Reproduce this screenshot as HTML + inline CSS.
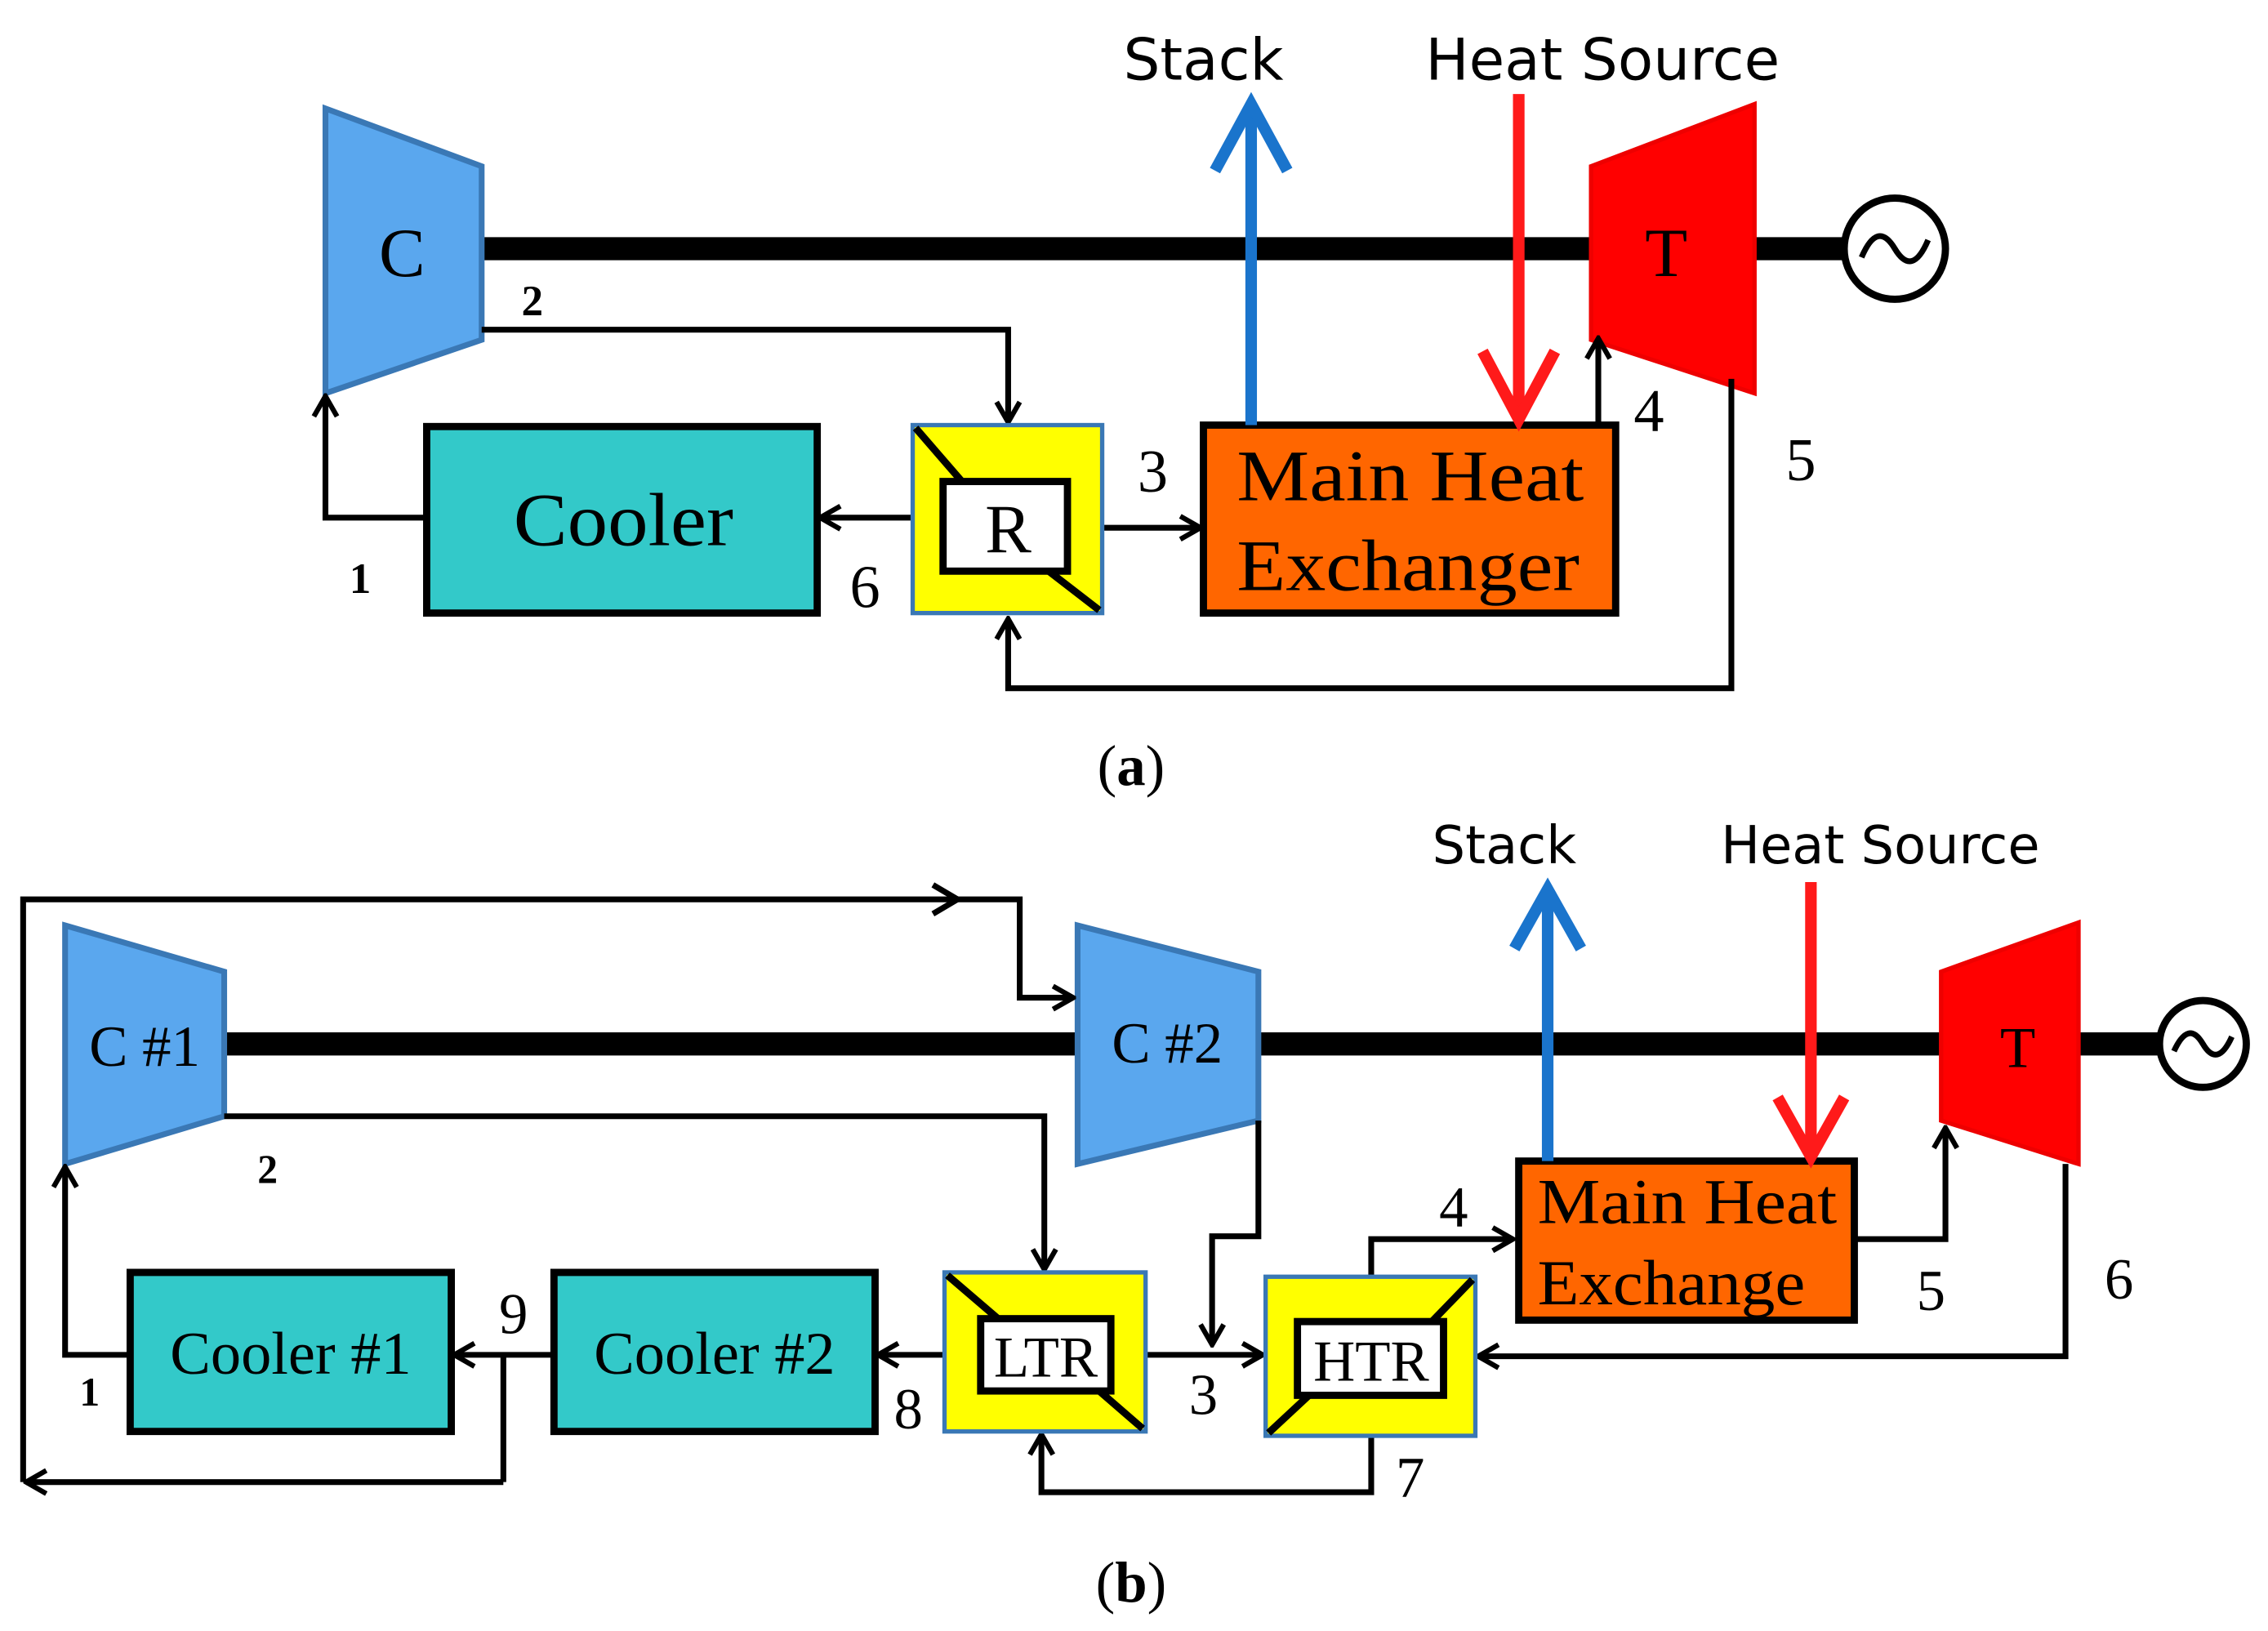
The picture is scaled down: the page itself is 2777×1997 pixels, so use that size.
<!DOCTYPE html>
<html><head><meta charset="utf-8"><style>
html,body{margin:0;padding:0;background:#fff;}
svg{display:block;}
.s{font-family:"Liberation Serif",serif;}
.a{font-family:"DejaVu Sans","Liberation Sans",sans-serif;}
</style></head><body>
<svg width="2777" height="1997" viewBox="0 0 1568 1128" preserveAspectRatio="none" xmlns="http://www.w3.org/2000/svg">
<defs>
<marker id="ar" viewBox="0 0 20 20" refX="18" refY="10" markerWidth="20" markerHeight="20" markerUnits="userSpaceOnUse" orient="auto">
<polyline points="4,2 18,10 4,18" fill="none" stroke="#000" stroke-width="3.5"/>
</marker>
</defs>
<line x1="333" y1="172" x2="1280" y2="172" stroke="#000" stroke-width="16"/>
<polygon points="225,75 333,115 333,235 225,272" fill="#5aa7ee" stroke="#3a78b5" stroke-width="4"/>
<polygon points="1100,115 1213,72 1213,272 1100,235" fill="#ff0000" stroke="#ee0000" stroke-width="3"/>
<circle cx="1310" cy="172" r="35" fill="#fff" stroke="#000" stroke-width="5"/>
<path d="M1287,178 Q1298,152 1310,172 Q1322,192 1333,166" fill="none" stroke="#000" stroke-width="4"/>
<text x="278" y="191" class="s" font-size="48" text-anchor="middle">C</text>
<text x="1152" y="191" class="s" font-size="48" text-anchor="middle">T</text>
<text x="368" y="218" class="s" font-size="30" font-weight="bold" text-anchor="middle">2</text>
<g fill="none" stroke="#000" stroke-width="4">
<polyline points="333,228 697,228 697,292" marker-end="url(#ar)"/>
<line x1="631" y1="358" x2="567" y2="358" marker-end="url(#ar)"/>
<polyline points="295,358 225,358 225,274" marker-end="url(#ar)"/>
<line x1="762" y1="365" x2="830" y2="365" marker-end="url(#ar)"/>
<polyline points="1105,294 1105,234" marker-end="url(#ar)"/>
<polyline points="1197,262 1197,476 697,476 697,428" marker-end="url(#ar)"/>
</g>
<rect x="295" y="295" width="270" height="129" fill="#33c9c9" stroke="#000" stroke-width="5"/>
<text x="355" y="377" class="s" font-size="52" textLength="152" lengthAdjust="spacingAndGlyphs">Cooler</text>
<rect x="631" y="294" width="131" height="130" fill="#ffff00" stroke="#3a78b5" stroke-width="3"/>
<line x1="633" y1="296" x2="665" y2="333" stroke="#000" stroke-width="5"/>
<line x1="760" y1="422" x2="725" y2="395" stroke="#000" stroke-width="5"/>
<rect x="652" y="333" width="86" height="62" fill="#fff" stroke="#000" stroke-width="5"/>
<text x="697" y="382" class="s" font-size="48" text-anchor="middle">R</text>
<rect x="832" y="294" width="285" height="130" fill="#ff6600" stroke="#000" stroke-width="5"/>
<text x="855" y="346" class="s" font-size="50" textLength="240" lengthAdjust="spacingAndGlyphs">Main Heat</text>
<text x="855" y="408" class="s" font-size="50" textLength="237" lengthAdjust="spacingAndGlyphs">Exchanger</text>
<line x1="865" y1="294" x2="865" y2="72" stroke="#1a74cc" stroke-width="8"/>
<polyline points="840,118 865,72 890,118" fill="none" stroke="#1a74cc" stroke-width="8"/>
<line x1="1050" y1="65" x2="1050" y2="290" stroke="#ff1a1a" stroke-width="8"/>
<polyline points="1025,243 1050,290 1075,243" fill="none" stroke="#ff1a1a" stroke-width="8"/>
<text x="832" y="55" class="a" font-size="40" text-anchor="middle">Stack</text>
<text x="1108" y="55" class="a" font-size="40" text-anchor="middle">Heat Source</text>
<text x="598" y="420" class="s" font-size="42" text-anchor="middle">6</text>
<text x="249" y="410" class="s" font-size="30" font-weight="bold" text-anchor="middle">1</text>
<text x="797" y="340" class="s" font-size="42" text-anchor="middle">3</text>
<text x="1140" y="298" class="s" font-size="42" text-anchor="middle">4</text>
<text x="1245" y="332" class="s" font-size="42" text-anchor="middle">5</text>
<text x="782" y="543" class="s" font-size="40" text-anchor="middle">(<tspan font-weight="bold">a</tspan>)</text>

<line x1="155" y1="722" x2="1495" y2="722" stroke="#000" stroke-width="16"/>
<polygon points="45,640 155,672 155,772 45,805" fill="#5aa7ee" stroke="#3a78b5" stroke-width="4"/>
<polygon points="745,640 870,672 870,775 745,805" fill="#5aa7ee" stroke="#3a78b5" stroke-width="4"/>
<polygon points="1342,672 1437,638 1437,805 1342,775" fill="#ff0000" stroke="#ee0000" stroke-width="3"/>
<circle cx="1523" cy="722" r="30" fill="#fff" stroke="#000" stroke-width="5"/>
<path d="M1503,727 Q1513,705 1523,722 Q1533,739 1543,717" fill="none" stroke="#000" stroke-width="4"/>
<text x="100" y="737" class="s" font-size="40" text-anchor="middle">C #1</text>
<text x="807" y="735" class="s" font-size="40" text-anchor="middle">C #2</text>
<text x="1395" y="738" class="s" font-size="40" text-anchor="middle">T</text>
<g fill="none" stroke="#000" stroke-width="4">
<polyline points="348,1025 18,1025" marker-end="url(#ar)"/>
<polyline points="16,1025 16,622 705,622 705,690 742,690" marker-end="url(#ar)"/>
<polyline points="645,612 662,622 645,632"/>
<line x1="348" y1="937" x2="348" y2="1025"/>
<polyline points="155,772 722,772 722,878" marker-end="url(#ar)"/>
<line x1="653" y1="937" x2="607" y2="937" marker-end="url(#ar)"/>
<line x1="383" y1="937" x2="314" y2="937" marker-end="url(#ar)"/>
<polyline points="90,937 45,937 45,807" marker-end="url(#ar)"/>
<line x1="792" y1="937" x2="873" y2="937" marker-end="url(#ar)"/>
<polyline points="870,775 870,855 838,855 838,930" marker-end="url(#ar)"/>
<polyline points="948,993 948,1032 720,1032 720,992" marker-end="url(#ar)"/>
<polyline points="948,883 948,857 1046,857" marker-end="url(#ar)"/>
<polyline points="1282,857 1345,857 1345,780" marker-end="url(#ar)"/>
<polyline points="1428,805 1428,938 1022,938" marker-end="url(#ar)"/>
</g>
<rect x="90" y="880" width="222" height="110" fill="#33c9c9" stroke="#000" stroke-width="5"/>
<text x="201" y="950" class="s" font-size="42" text-anchor="middle">Cooler #1</text>
<rect x="383" y="880" width="222" height="110" fill="#33c9c9" stroke="#000" stroke-width="5"/>
<text x="494" y="950" class="s" font-size="42" text-anchor="middle">Cooler #2</text>
<rect x="653" y="880" width="139" height="110" fill="#ffff00" stroke="#3a78b5" stroke-width="3"/>
<line x1="655" y1="882" x2="690" y2="912" stroke="#000" stroke-width="5"/>
<line x1="790" y1="988" x2="760" y2="962" stroke="#000" stroke-width="5"/>
<rect x="678" y="912" width="90" height="50" fill="#fff" stroke="#000" stroke-width="5"/>
<text x="723" y="952" class="s" font-size="40" text-anchor="middle">LTR</text>
<rect x="875" y="883" width="145" height="110" fill="#ffff00" stroke="#3a78b5" stroke-width="3"/>
<line x1="877" y1="991" x2="905" y2="965" stroke="#000" stroke-width="5"/>
<line x1="1018" y1="885" x2="990" y2="914" stroke="#000" stroke-width="5"/>
<rect x="897" y="914" width="101" height="51" fill="#fff" stroke="#000" stroke-width="5"/>
<text x="948" y="955" class="s" font-size="40" text-anchor="middle">HTR</text>
<rect x="1050" y="803" width="232" height="110" fill="#ff6600" stroke="#000" stroke-width="5"/>
<text x="1063" y="846" class="s" font-size="44" textLength="207" lengthAdjust="spacingAndGlyphs">Main Heat</text>
<text x="1063" y="902" class="s" font-size="44" textLength="185" lengthAdjust="spacingAndGlyphs">Exchange</text>
<line x1="1070" y1="803" x2="1070" y2="615" stroke="#1a74cc" stroke-width="8"/>
<polyline points="1047,656 1070,615 1093,656" fill="none" stroke="#1a74cc" stroke-width="8"/>
<line x1="1252" y1="610" x2="1252" y2="800" stroke="#ff1a1a" stroke-width="8"/>
<polyline points="1229,759 1252,800 1275,759" fill="none" stroke="#ff1a1a" stroke-width="8"/>
<text x="1040" y="597" class="a" font-size="36" text-anchor="middle">Stack</text>
<text x="1300" y="597" class="a" font-size="36" text-anchor="middle">Heat Source</text>
<text x="185" y="818" class="s" font-size="28" font-weight="bold" text-anchor="middle">2</text>
<text x="62" y="972" class="s" font-size="28" font-weight="bold" text-anchor="middle">1</text>
<text x="355" y="922" class="s" font-size="40" text-anchor="middle">9</text>
<text x="628" y="988" class="s" font-size="40" text-anchor="middle">8</text>
<text x="832" y="978" class="s" font-size="40" text-anchor="middle">3</text>
<text x="975" y="1035" class="s" font-size="40" text-anchor="middle">7</text>
<text x="1005" y="848" class="s" font-size="40" text-anchor="middle">4</text>
<text x="1335" y="906" class="s" font-size="40" text-anchor="middle">5</text>
<text x="1465" y="898" class="s" font-size="40" text-anchor="middle">6</text>
<text x="782" y="1108" class="s" font-size="40" text-anchor="middle">(<tspan font-weight="bold">b</tspan>)</text>
</svg>
</body></html>
